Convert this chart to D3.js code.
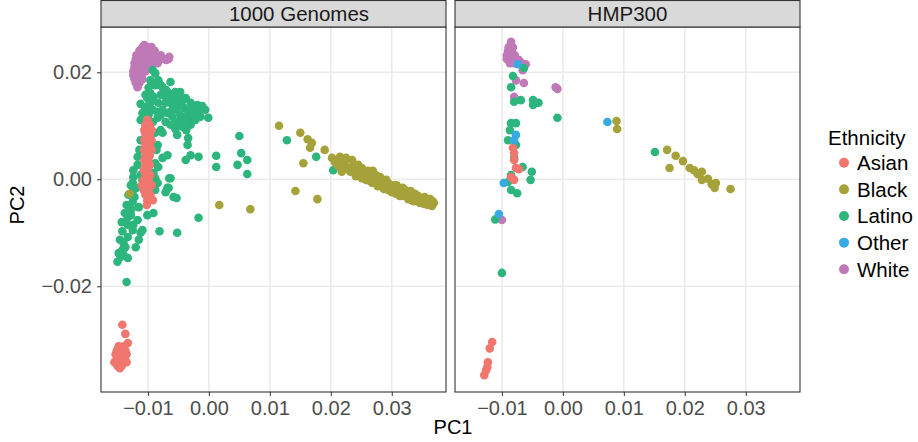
<!DOCTYPE html>
<html>
<head>
<meta charset="utf-8">
<script src="https://cdn.jsdelivr.net/npm/d3@7"></script>
<style>
  body { margin: 0; background: #fff; }
  text { font-family: "Liberation Sans", Arial, sans-serif; }
</style>
</head>
<body>
<div id="chart"></div>
<script>
// PC1 / PC2 values, one array per panel and ethnicity
const kgWhite = [
  [-0.0109,0.0247],[-0.0101,0.0247],[-0.0094,0.0247],[-0.0106,0.0251],
  [-0.0114,0.0240],[-0.0107,0.0240],[-0.0101,0.0240],[-0.0094,0.0240],[-0.0089,0.0240],
  [-0.0119,0.0232],[-0.0112,0.0232],[-0.0106,0.0232],[-0.0099,0.0232],[-0.0092,0.0232],[-0.0086,0.0232],[-0.0079,0.0232],
  [-0.0120,0.0225],[-0.0114,0.0225],[-0.0107,0.0225],[-0.0101,0.0225],[-0.0094,0.0225],[-0.0088,0.0225],[-0.0081,0.0225],[-0.0073,0.0225],[-0.0066,0.0225],
  [-0.0122,0.0217],[-0.0115,0.0217],[-0.0109,0.0217],[-0.0102,0.0217],[-0.0096,0.0217],[-0.0089,0.0217],[-0.0084,0.0217],
  [-0.0122,0.0210],[-0.0115,0.0210],[-0.0109,0.0210],[-0.0102,0.0210],[-0.0096,0.0210],
  [-0.0124,0.0202],[-0.0117,0.0202],[-0.0110,0.0202],[-0.0104,0.0202],
  [-0.0124,0.0195],[-0.0117,0.0195],[-0.0110,0.0195],
  [-0.0122,0.0187],[-0.0115,0.0187],[-0.0109,0.0187],
  [-0.0120,0.0180],[-0.0114,0.0180],[-0.0117,0.0172],
  [-0.0065,0.0229],[-0.0070,0.0223]
];
const kgLatino = [
  [-0.0092,0.0204],[-0.0088,0.0198],[-0.0083,0.0185],[-0.0063,0.0182],[-0.0076,0.0172],
  [-0.0070,0.0167],[-0.0047,0.0163],[-0.0099,0.0171],[-0.0096,0.0161],[-0.0101,0.0152],
  [-0.0091,0.0154],[-0.0079,0.0158],[-0.0071,0.0154],[-0.0063,0.0152],[-0.0055,0.0148],
  [-0.0050,0.0152],[-0.0038,0.0152],[-0.0030,0.0143],[-0.0019,0.0139],[-0.0006,0.0130],
  [-0.0001,0.0115],[-0.0014,0.0117],[-0.0022,0.0126],[-0.0030,0.0130],[-0.0035,0.0120],
  [-0.0042,0.0111],[-0.0030,0.0102],[-0.0043,0.0098],[-0.0052,0.0107],[-0.0060,0.0117],
  [-0.0068,0.0124],[-0.0076,0.0130],[-0.0084,0.0126],[-0.0092,0.0130],[-0.0104,0.0133],
  [-0.0109,0.0124],[-0.0112,0.0111],[-0.0099,0.0120],[-0.0084,0.0115],[-0.0071,0.0107],
  [-0.0079,0.0092],[-0.0088,0.0087],[-0.0076,0.0087],[-0.0052,0.0083],[-0.0034,0.0077],
  [-0.0035,0.0064],[-0.0017,0.0042],[-0.0030,0.0045],[-0.0038,0.0036],[-0.0068,0.0045],
  [-0.0076,0.0040],[-0.0088,0.0030],[-0.0083,0.0023],[-0.0091,0.0012],[-0.0124,0.0017],
  [-0.0117,0.0042],[-0.0124,0.0004],[-0.0125,-0.0007],[-0.0063,0.0002],[-0.0068,-0.0016],
  [-0.0058,-0.0033],[-0.0091,-0.0020],[-0.0084,-0.0007],
  [0.0012,0.0044],[0.0012,0.0023],[0.0050,0.0081],[0.0053,0.0049],[0.0063,0.0036],
  [0.0047,0.0027],[0.0063,0.0010],
  [-0.0083,0.0143],[-0.0071,0.0143],[-0.0060,0.0139],[-0.0047,0.0139],[-0.0096,0.0143],
  [-0.0053,0.0130],[-0.0040,0.0133],[-0.0017,0.0126],[-0.0027,0.0115],[-0.0063,0.0102],
  [-0.0092,0.0107],[-0.0104,0.0102],[-0.0079,0.0176],[-0.0066,0.0161],[-0.0055,0.0163],
  [-0.0088,0.0176],[-0.0096,0.0185],[-0.0074,0.0163],[-0.0060,0.0156],[-0.0043,0.0148],
  [-0.0025,0.0135],[-0.0011,0.0137],[-0.0079,0.0120],[-0.0063,0.0126],[-0.0047,0.0120],
  [-0.0034,0.0109],[-0.0022,0.0111],[-0.0055,0.0094],[-0.0037,0.0092],[-0.0104,0.0158],
  [-0.0112,0.0141],[-0.0099,0.0139],
  [-0.0109,-0.0001],[-0.0088,-0.0020],[-0.0071,-0.0024],[-0.0066,-0.0016],[-0.0065,0.0002],
  [-0.0053,-0.0035],[-0.0128,-0.0011],[-0.0124,-0.0020],[-0.0125,-0.0042],[-0.0115,-0.0052],
  [-0.0133,-0.0071],[-0.0117,-0.0076],[-0.0101,-0.0067],[-0.0091,-0.0063],[-0.0109,-0.0095],
  [-0.0112,-0.0100],[-0.0125,-0.0095],[-0.0142,-0.0097],[-0.0133,-0.0108],[-0.0115,-0.0113],
  [-0.0140,-0.0119],[-0.0142,-0.0132],[-0.0145,-0.0145],[-0.0150,-0.0154],[-0.0133,-0.0147],
  [-0.0081,-0.0097],[-0.0052,-0.0100],[-0.0017,-0.0072],[-0.0135,-0.0192],
  [-0.0132,-0.0029],[-0.0122,-0.0033],[-0.0135,-0.0048],[-0.0127,-0.0056],[-0.0138,-0.0063],
  [-0.0128,-0.0067],[-0.0143,-0.0080],[-0.0133,-0.0085],[-0.0124,-0.0085],[-0.0146,-0.0113],
  [-0.0137,-0.0127],[-0.0148,-0.0138],[-0.0140,-0.0141],[-0.0120,-0.0127],
  [-0.0112,0.0073],[-0.0114,0.0055],[-0.0084,0.0064],[-0.0086,0.0055],[-0.0117,0.0027],
  [-0.0112,0.0008],[-0.0088,0.0002],[-0.0119,-0.0016],
  [0.0128,0.0073],[0.0176,0.0042],[0.0204,0.0017]
];
const kgAsian = [
  [-0.0101,0.0111],[-0.0104,0.0102],[-0.0097,0.0102],[-0.0106,0.0092],[-0.0099,0.0092],[-0.0094,0.0092],
  [-0.0104,0.0083],[-0.0097,0.0083],[-0.0106,0.0073],[-0.0099,0.0073],[-0.0094,0.0073],
  [-0.0104,0.0064],[-0.0097,0.0064],[-0.0106,0.0055],[-0.0099,0.0055],[-0.0094,0.0055],
  [-0.0104,0.0045],[-0.0097,0.0045],[-0.0106,0.0036],[-0.0099,0.0036],[-0.0104,0.0027],[-0.0097,0.0027],
  [-0.0107,0.0017],[-0.0101,0.0017],[-0.0104,0.0008],[-0.0096,0.0008],[-0.0107,-0.0001],[-0.0099,-0.0001],
  [-0.0110,-0.0011],[-0.0102,-0.0011],[-0.0094,-0.0011],[-0.0107,-0.0020],[-0.0099,-0.0020],
  [-0.0104,-0.0029],[-0.0096,-0.0029],[-0.0101,-0.0039],[-0.0092,-0.0039],[-0.0102,-0.0048],
  [-0.0142,-0.0272],[-0.0137,-0.0289],[-0.0133,-0.0306],
  [-0.0148,-0.0312],[-0.0140,-0.0312],[-0.0151,-0.0320],[-0.0145,-0.0320],[-0.0137,-0.0320],
  [-0.0153,-0.0327],[-0.0146,-0.0327],[-0.0140,-0.0327],[-0.0135,-0.0327],
  [-0.0151,-0.0335],[-0.0145,-0.0335],[-0.0138,-0.0335],
  [-0.0155,-0.0342],[-0.0148,-0.0342],[-0.0142,-0.0342],[-0.0135,-0.0342],
  [-0.0150,-0.0349],[-0.0143,-0.0349],[-0.0146,-0.0353]
];
const kgBlack = [
  [-0.0130,-0.0027],[0.0017,-0.0048],[0.0068,-0.0056],[0.0115,0.0100],[0.0150,0.0087],
  [0.0162,0.0075],[0.0169,0.0068],[0.0166,0.0059],[0.0190,0.0055],[0.0155,0.0030],
  [0.0202,0.0040],[0.0215,0.0042],[0.0142,-0.0022],[0.0178,-0.0037],
  [0.0207,0.0032],[0.0215,0.0027],[0.0223,0.0029],[0.0228,0.0021],[0.0235,0.0023],
  [0.0241,0.0017],[0.0248,0.0014],[0.0254,0.0010],[0.0261,0.0006],[0.0268,0.0008],
  [0.0274,-0.0001],[0.0281,-0.0005],[0.0286,-0.0003],[0.0291,-0.0011],[0.0294,-0.0007],
  [0.0300,-0.0014],[0.0305,-0.0020],[0.0310,-0.0016],[0.0313,-0.0024],[0.0320,-0.0026],
  [0.0325,-0.0029],[0.0330,-0.0027],[0.0335,-0.0033],[0.0340,-0.0035],[0.0346,-0.0037],
  [0.0351,-0.0039],[0.0356,-0.0041],[0.0363,-0.0044],[0.0367,-0.0041],
  [0.0218,0.0014],[0.0241,0.0006],[0.0258,-0.0001],[0.0268,-0.0007],[0.0277,-0.0013],
  [0.0287,-0.0018],[0.0300,-0.0024],[0.0307,-0.0027],[0.0317,-0.0031],[0.0327,-0.0037],
  [0.0336,-0.0041],[0.0346,-0.0044],[0.0359,-0.0048],[0.0235,0.0036],[0.0251,0.0021],
  [0.0269,0.0016],[0.0281,0.0004],[0.0308,-0.0011],[0.0322,-0.0020],[0.0338,-0.0027],
  [0.0354,-0.0033],[0.0225,0.0040],
  [0.0212,0.0025],[0.0232,0.0014],[0.0251,0.0002],[0.0264,-0.0003],[0.0294,-0.0020],
  [0.0313,-0.0031],[0.0333,-0.0039],[0.0353,-0.0046],[0.0366,-0.0050],[0.0343,-0.0031],
  [0.0363,-0.0037],[0.0222,0.0036],[0.0245,0.0027],[0.0261,0.0016],[0.0274,0.0008],
  [0.0291,-0.0001],[0.0303,-0.0011],[0.0318,-0.0016],[0.0331,-0.0022],[0.0369,-0.0044]
];

const hmpWhite = [
  [-0.0085,0.0257],[-0.0089,0.0247],[-0.0082,0.0247],[-0.0090,0.0240],[-0.0084,0.0240],
  [-0.0092,0.0232],[-0.0085,0.0232],[-0.0079,0.0232],[-0.0092,0.0225],[-0.0085,0.0225],
  [-0.0079,0.0225],[-0.0072,0.0223],[-0.0087,0.0217],[-0.0080,0.0217],[-0.0067,0.0217],
  [-0.0061,0.0215],[-0.0066,0.0204],[-0.0077,0.0185],[-0.0064,0.0180],[-0.0080,0.0154],
  [-0.0012,0.0172],[-0.0009,0.0169],[-0.0100,-0.0076]
];
const hmpLatino = [
  [-0.0082,0.0193],[-0.0085,0.0172],[-0.0080,0.0145],[-0.0069,0.0148],[-0.0049,0.0148],
  [-0.0040,0.0143],[-0.0049,0.0139],[-0.0009,0.0115],[-0.0085,0.0105],[-0.0077,0.0105],
  [-0.0087,0.0092],[-0.0090,0.0073],[-0.0077,0.0064],[-0.0080,0.0040],[-0.0066,0.0023],
  [-0.0051,0.0014],[-0.0053,-0.0001],[-0.0085,0.0008],[-0.0090,-0.0005],[-0.0085,-0.0020],
  [-0.0075,-0.0026],[-0.0111,-0.0075],[-0.0064,0.0208],[-0.0100,-0.0175],[0.0151,0.0051]
];
const hmpAsian = [
  [-0.0082,0.0059],[-0.0080,0.0049],[-0.0080,0.0036],[-0.0077,0.0021],[-0.0080,-0.0001],
  [-0.0085,0.0004],[-0.0072,0.0019],
  [-0.0116,-0.0304],[-0.0120,-0.0316],[-0.0123,-0.0342],[-0.0126,-0.0357],[-0.0129,-0.0366],[-0.0124,-0.0351]
];
const hmpBlack = [
  [0.0088,0.0109],[0.0089,0.0094],[0.0171,0.0055],[0.0185,0.0044],[0.0197,0.0034],
  [0.0175,0.0021],[0.0208,0.0021],[0.0215,0.0017],[0.0228,0.0014],[0.0228,-0.0001],
  [0.0238,0.0001],[0.0251,-0.0007],[0.0249,-0.0016],[0.0275,-0.0018],[0.0221,0.0010],[0.0244,-0.0009]
];
const hmpOther = [
  [-0.0074,0.0215],[-0.0077,0.0083],[-0.0080,0.0073],[-0.0097,-0.0007],[-0.0105,-0.0065],[0.0073,0.0107]
];

const ethnicities = ["Asian", "Black", "Latino", "Other", "White"];
const drawOrder = ["White", "Latino", "Asian", "Black", "Other"];
const xTicks = [-0.01, 0, 0.01, 0.02, 0.03];
const yTicks = [-0.02, 0, 0.02];
const facets = ["1000 Genomes", "HMP300"];

const colors = d3.scaleOrdinal()
  .domain(ethnicities)
  .range(["#F0766E", "#A6A23A", "#2CB67D", "#38AAE2", "#BF79B7"]);

const panelData = {
  "1000 Genomes": {Asian: kgAsian, Black: kgBlack, Latino: kgLatino, Other: [], White: kgWhite},
  "HMP300": {Asian: hmpAsian, Black: hmpBlack, Latino: hmpLatino, Other: hmpOther, White: hmpWhite}
};

const width = 918, height = 442;
const panelW = 345, panelTop = 27, panelBottom = 392, stripTop = 0.5;
const panelLefts = [101, 455];
// strip label centres, as placed in the original
const stripLabelX = [198, panelW / 2];

const svg = d3.select("#chart").append("svg")
  .attr("width", width)
  .attr("height", height);

const x = d3.scaleLinear().domain([-0.0177, 0.0389]).range([0, panelW]);
const y = d3.scaleLinear().domain([-0.03976, 0.02847]).range([panelBottom, panelTop]);
const fmt = d3.format(".2f");

facets.forEach((name, i) => {
  const g = svg.append("g").attr("transform", `translate(${panelLefts[i]},0)`);

  // grid
  g.append("g").selectAll("line")
    .data(xTicks).join("line")
    .attr("x1", d => x(d)).attr("x2", d => x(d))
    .attr("y1", panelTop).attr("y2", panelBottom)
    .attr("stroke", "#EBEBEB").attr("stroke-width", 1.6);
  g.append("g").selectAll("line")
    .data(yTicks).join("line")
    .attr("x1", 0).attr("x2", panelW)
    .attr("y1", d => y(d)).attr("y2", d => y(d))
    .attr("stroke", "#EBEBEB").attr("stroke-width", 1.6);

  // points
  const pts = g.append("g");
  drawOrder.forEach(eth => {
    pts.append("g")
      .attr("fill", colors(eth))
      .selectAll("circle")
      .data(panelData[name][eth])
      .join("circle")
      .attr("cx", d => x(d[0]))
      .attr("cy", d => y(d[1]))
      .attr("r", 4.3);
  });

  // panel border
  g.append("rect")
    .attr("x", 0).attr("y", panelTop)
    .attr("width", panelW).attr("height", panelBottom - panelTop)
    .attr("fill", "none").attr("stroke", "#333").attr("stroke-width", 1.1);

  // strip
  g.append("rect")
    .attr("x", 0).attr("y", stripTop)
    .attr("width", panelW).attr("height", panelTop - stripTop)
    .attr("fill", "#D9D9D9").attr("stroke", "#333").attr("stroke-width", 1.1);
  g.append("text")
    .attr("x", stripLabelX[i]).attr("y", 20.5)
    .attr("text-anchor", "middle")
    .attr("font-size", "20.5px")
    .attr("fill", "#1A1A1A")
    .text(name);

  // x axis
  const xa = g.append("g")
    .attr("transform", `translate(0,${panelBottom})`)
    .call(d3.axisBottom(x).tickValues(xTicks).tickFormat(fmt).tickSize(4).tickPadding(5));
  xa.select(".domain").remove();
  xa.selectAll("line").attr("stroke", "#333");
  xa.selectAll("text").attr("font-size", "20px").attr("fill", "#4D4D4D")
    .attr("font-family", "Liberation Sans, Arial, sans-serif");

  if (i === 0) {
    const ya = g.append("g")
      .call(d3.axisLeft(y).tickValues(yTicks).tickFormat(fmt).tickSize(4).tickPadding(5));
    ya.select(".domain").remove();
    ya.selectAll("line").attr("stroke", "#333");
    ya.selectAll("text").attr("font-size", "20px").attr("fill", "#4D4D4D")
      .attr("font-family", "Liberation Sans, Arial, sans-serif");
  }
});

// axis titles
svg.append("text")
  .attr("x", 453).attr("y", 434)
  .attr("text-anchor", "middle")
  .attr("font-size", "20px")
  .text("PC1");
svg.append("text")
  .attr("transform", "translate(24,205) rotate(-90)")
  .attr("text-anchor", "middle")
  .attr("font-size", "20px")
  .text("PC2");

// legend
const legend = svg.append("g").attr("transform", "translate(828,0)");
legend.append("text")
  .attr("x", 0).attr("y", 145)
  .attr("font-size", "20.5px")
  .text("Ethnicity");
const items = legend.selectAll("g.item")
  .data(ethnicities).join("g")
  .attr("transform", (d, i) => `translate(0,${162.7 + i * 26.65})`);
items.append("circle")
  .attr("cx", 16).attr("cy", 0).attr("r", 5)
  .attr("fill", d => colors(d));
items.append("text")
  .attr("x", 29).attr("y", 0).attr("dy", "0.36em")
  .attr("font-size", "20.5px")
  .text(d => d);
</script>
</body>
</html>
